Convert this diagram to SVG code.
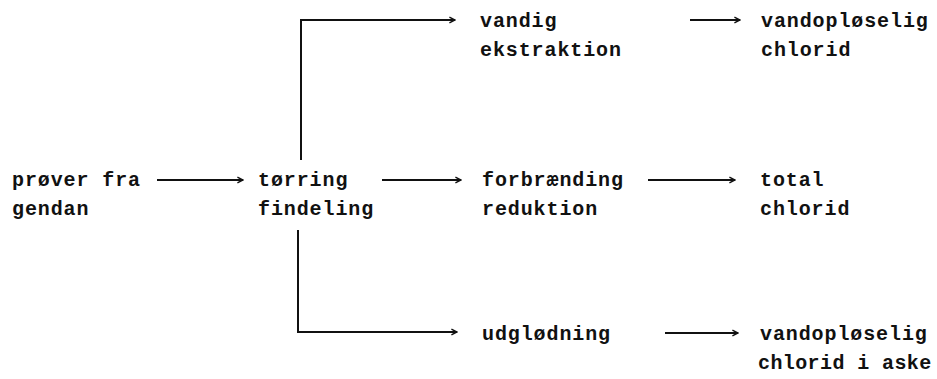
<svg xmlns="http://www.w3.org/2000/svg" width="937" height="379" viewBox="0 0 937 379">
<style>
text{font-family:"Liberation Mono","DejaVu Sans Mono",monospace;font-weight:bold;font-size:20px;letter-spacing:0.9px;fill:#111}
.c{fill:none;stroke:#111;stroke-width:2}
</style>
<defs>
<marker id="ah" viewBox="0 0 10 10" refX="9" refY="5" markerWidth="7" markerHeight="9" markerUnits="userSpaceOnUse" orient="auto">
<path d="M1,1 L9,5 L1,9" fill="none" stroke="#111" stroke-width="2"/>
</marker>
</defs>
<rect width="937" height="379" fill="#fff"/>
<g id="connectors">
<path class="c" d="M157,180 H243" marker-end="url(#ah)"/>
<path class="c" d="M382,180 H461" marker-end="url(#ah)"/>
<path class="c" d="M648,180 H735" marker-end="url(#ah)"/>
<path class="c" d="M301,160 V20 H455" marker-end="url(#ah)"/>
<path class="c" d="M690,20 H740" marker-end="url(#ah)"/>
<path class="c" d="M298,230 V332 H457" marker-end="url(#ah)"/>
<path class="c" d="M665,333 H738" marker-end="url(#ah)"/>
</g>
<g id="n-prover"><text x="12" y="186">prøver fra</text><text x="12" y="215">gendan</text></g>
<g id="n-torring"><text x="258" y="186">tørring</text><text x="258" y="215">findeling</text></g>
<g id="n-vandig"><text x="480" y="27">vandig</text><text x="480" y="56">ekstraktion</text></g>
<g id="n-forbraending"><text x="482" y="186">forbrænding</text><text x="482" y="215">reduktion</text></g>
<g id="n-udglodning"><text x="482" y="340">udglødning</text></g>
<g id="n-vandoploselig1"><text x="761" y="27">vandopløselig</text><text x="761" y="56">chlorid</text></g>
<g id="n-total"><text x="760" y="186">total</text><text x="760" y="215">chlorid</text></g>
<g id="n-vandoploselig2"><text x="760" y="340">vandopløselig</text><text x="758" y="369" style="letter-spacing:0.4px">chlorid i aske</text></g>
</svg>
